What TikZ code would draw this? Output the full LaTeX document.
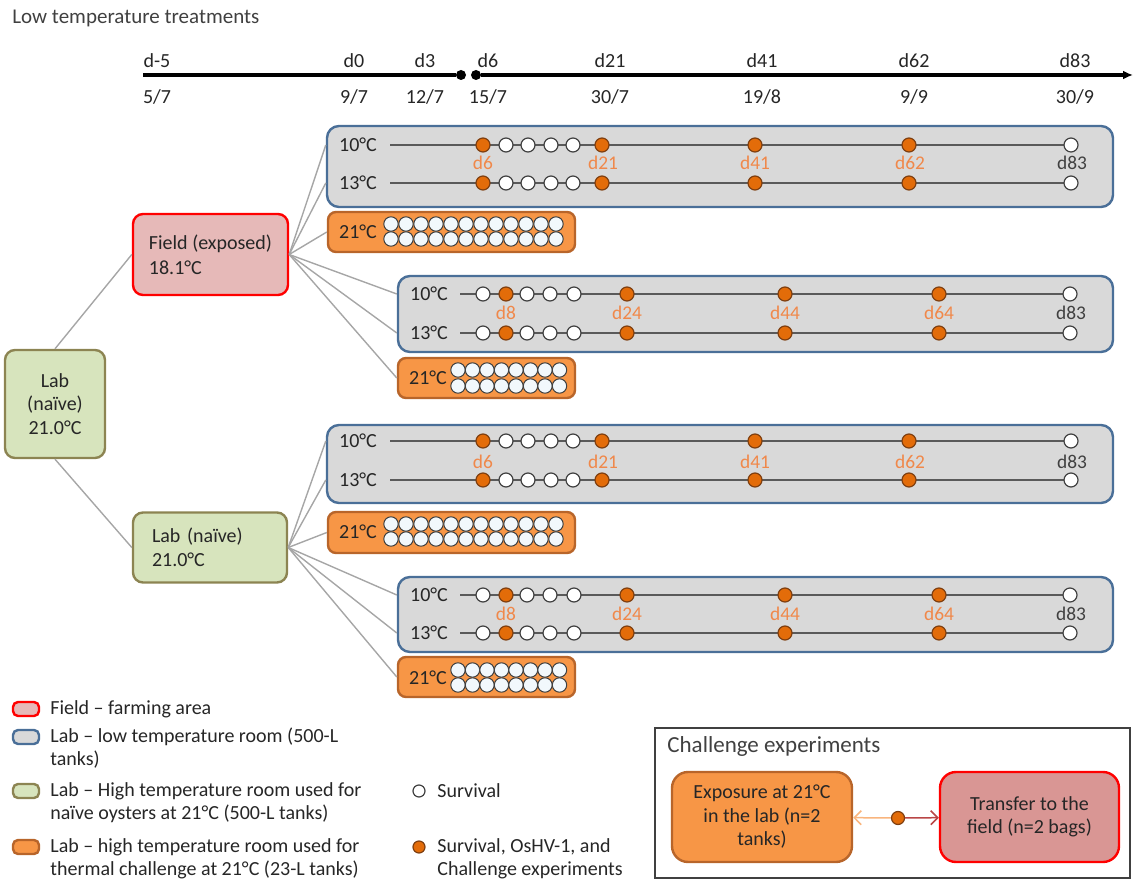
\documentclass[tikz,border=0pt]{standalone}
\usepackage{fontspec}
\setmainfont{Carlito}
\usepackage{tikz}
\usetikzlibrary{positioning, arrows.meta, fit}

\definecolor{boxgrey}{HTML}{D9D9D9}
\definecolor{boxblue}{HTML}{4A6F98}
\definecolor{hotfill}{HTML}{F79646}
\definecolor{hotdraw}{HTML}{B8652A}
\definecolor{fieldfill}{HTML}{E6B9B8}
\definecolor{xferfill}{HTML}{D99694}
\definecolor{fielddraw}{HTML}{FF0000}
\definecolor{labfill}{HTML}{D7E4BD}
\definecolor{labdraw}{HTML}{8C8452}
\definecolor{dotfill}{HTML}{E36C09}
\definecolor{dotdraw}{HTML}{7F3F10}
\definecolor{daytext}{HTML}{F0884A}
\definecolor{inktext}{HTML}{404040}
\definecolor{fanline}{HTML}{A6A6A6}
\definecolor{rowgrey}{HTML}{5A5A5A}
\definecolor{cellfill}{HTML}{F2F8FC}

\begin{document}
\begin{tikzpicture}[
  x=0.5pt, y=-0.5pt,
  every node/.style={font=\fontsize{10}{11.5}\selectfont, text=black!85},
  tank/.style={rectangle, rounded corners=6pt, draw=boxblue, fill=boxgrey, line width=1.2pt, inner sep=0pt},
  hot/.style={rectangle, rounded corners=4pt, draw=hotdraw, fill=hotfill, line width=1.2pt, inner sep=0pt},
  wdot/.style={circle, draw=inktext, fill=white, line width=0.6pt, minimum size=7pt, inner sep=0pt},
  odot/.style={circle, draw=dotdraw, fill=dotfill, line width=0.6pt, minimum size=7pt, inner sep=0pt},
  cdot/.style={circle, draw=inktext, fill=cellfill, line width=0.5pt, minimum size=7.2pt, inner sep=0pt},
  tdot/.style={circle, fill=black, minimum size=5pt, inner sep=0pt},
  rowlbl/.style={inner sep=0pt},
  daylbl/.style={inner sep=0pt, text=daytext, font=\fontsize{9.7}{11}\selectfont},
  rowline/.style={draw=rowgrey, line width=0.75pt},
  fan/.style={draw=fanline, line width=0.7pt},
  timeline/.style={draw=black, line width=1.6pt},
  site/.style={rectangle, rounded corners=5pt, line width=1.2pt},
  swatch/.style={rectangle, rounded corners=2.5pt, line width=1.2pt, minimum width=13pt, minimum height=7pt, inner sep=0pt},
  legtxt/.style={anchor=west, align=left, inner sep=0pt},
  arr/.style={line width=0.75pt, -{Straight Barb[length=3.5pt, width=7pt]}}
]
\useasboundingbox (0,0) rectangle (1134,881);

\node[anchor=west, inner sep=0pt, text=inktext, font=\fontsize{10.5}{12}\selectfont] (title) at (12,18) {Low temperature treatments};

% time line
\coordinate (tl0) at (143,75);
\coordinate (tlend) at (1133,75);
\node[tdot] (tl1) at (461,75) {};
\node[tdot] (tl2) at (476,75) {};
\draw[timeline] (tl0) -- (tl1);
\draw[timeline, -{Latex[length=5pt, width=4.5pt]}] (tl2) -- (tlend);
\foreach \xx/\dd/\mm/\nn in {157/d-5/5/7, 354/d0/9/7, 425/d3/12/7, 488/d6/15/7,
  610/d21/30/7, 762/d41/19/8, 914/d62/9/9, 1075/d83/30/9} {
  \node[rowlbl] (top-\dd) at (\xx,61) {\dd};
  \node[rowlbl] (bot-\dd) at (\xx,97) {\mm/\nn};
}

% origin sites
\node[site, draw=labdraw, fill=labfill, align=center, minimum width=50pt, minimum height=54pt,
  font=\fontsize{10}{11.8}\selectfont] (root) at (55,404) {Lab\\(naïve)\\21.0°C};
\node[site, draw=fielddraw, fill=fieldfill, align=left, minimum width=77.5pt,
  minimum height=40.5pt, font=\fontsize{10}{12.5}\selectfont] (field) at (210.5,254.5) {Field (exposed)\\18.1°C};
\node[site, draw=labdraw, fill=labfill, align=left, text width=58pt, inner xsep=9.5pt,
  minimum height=35pt, font=\fontsize{10}{12}\selectfont] (lab2) at (210,547.5) {Lab (naïve)\\21.0°C};

% low temperature tanks
\node[tank, fit={(327,126) (1113,207)}] (g1) {};
\node[tank, fit={(398,276) (1113,352)}] (g2) {};
\node[tank, fit={(327,425) (1113,503)}] (g3) {};
\node[tank, fit={(398,577) (1113,652)}] (g4) {};

% 21 degree tanks
\node[hot, fit={(328,212) (575,252)}] (h1) {};
\node[hot, fit={(398,358) (575,398)}] (h2) {};
\node[hot, fit={(328,512) (575,553)}] (h3) {};
\node[hot, fit={(398,657) (575,697)}] (h4) {};

\draw[fan] (root.north) -- (field.west);
\draw[fan] (root.south) -- (lab2.west);

% sampling rows, tanks entered at d6
\foreach \gp/\ya/\yb/\yd in {g1/145/183/163, g3/441/480/462} {
  \foreach \rw/\yy/\tc in {a/\ya/10, b/\yb/13} {
    \node[rowlbl] (\gp\rw) at (358,\yy) {\tc °C};
    \coordinate (\gp\rw-s) at (390,\yy);
    \coordinate (\gp\rw-e) at (1071,\yy);
    \draw[rowline] (\gp\rw-s) -- (\gp\rw-e);
    \foreach \xx/\kd in {483/odot, 506/wdot, 528/wdot, 551/wdot, 573/wdot, 602/odot, 755/odot, 909/odot, 1071/wdot}
      \node[\kd] (\gp\rw-\xx) at (\xx,\yy) {};
  }
  \foreach \xx/\dd in {483/6, 603/21, 755/41, 910/62}
    \node[daylbl] (\gp-d\dd) at (\xx,\yd) {d\dd};
  \node[daylbl, text=inktext] (\gp-d83) at (1072,\yd) {d83};
}

% sampling rows, tanks entered at d8
\foreach \gp/\ya/\yb/\yd in {g2/294/333/313, g4/595/633/614} {
  \foreach \rw/\yy/\tc in {a/\ya/10, b/\yb/13} {
    \node[rowlbl] (\gp\rw) at (429,\yy) {\tc °C};
    \coordinate (\gp\rw-s) at (460,\yy);
    \coordinate (\gp\rw-e) at (1070,\yy);
    \draw[rowline] (\gp\rw-s) -- (\gp\rw-e);
    \foreach \xx/\kd in {483/wdot, 506/odot, 527/wdot, 550/wdot, 574/wdot, 627/odot, 785/odot, 939/odot, 1070/wdot}
      \node[\kd] (\gp\rw-\xx) at (\xx,\yy) {};
  }
  \foreach \xx/\dd in {506/8, 627/24, 785/44, 939/64}
    \node[daylbl] (\gp-d\dd) at (\xx,\yd) {d\dd};
  \node[daylbl, text=inktext] (\gp-d83) at (1071,\yd) {d83};
}

% thermal challenge tanks
\foreach \hh/\xl/\ya/\yb in {h1/358/224/239, h3/358/524/539} {
  \node[rowlbl] (\hh-t) at (\xl,{(\ya+\yb)/2}) {21°C};
  \foreach \i in {0,...,11} {
    \node[cdot] (\hh-a\i) at ({391+15*\i},\ya) {};
    \node[cdot] (\hh-b\i) at ({391+15*\i},\yb) {};
  }
}
\foreach \hh/\xl/\ya/\yb in {h2/428/370/386, h4/428/670/685} {
  \node[rowlbl] (\hh-t) at (\xl,{(\ya+\yb)/2}) {21°C};
  \foreach \i in {0,...,7} {
    \node[cdot] (\hh-a\i) at ({458+14.5*\i},\ya) {};
    \node[cdot] (\hh-b\i) at ({458+14.5*\i},\yb) {};
  }
}

% links to tanks
\foreach \bx/\rw in {g1/g1a, g1/g1b, g2/g2a, g2/g2b}
  \draw[fan] (field.east) -- (\bx.west |- \rw-s);
\draw[fan] (field.east) -- (h1.west);
\draw[fan] (field.east) -- (h2.west);
\foreach \bx/\rw in {g3/g3a, g3/g3b, g4/g4a, g4/g4b}
  \draw[fan] (lab2.east) -- (\bx.west |- \rw-s);
\draw[fan] (lab2.east) -- (h3.west);
\draw[fan] (lab2.east) -- (h4.west);

% legend
\node[swatch, draw=fielddraw, fill=fieldfill] (k1) at (26,709) {};
\node[swatch, draw=boxblue, fill=boxgrey] (k2) at (26,737) {};
\node[swatch, draw=labdraw, fill=labfill] (k3) at (26,791) {};
\node[swatch, draw=hotdraw, fill=hotfill] (k4) at (26,847) {};
\node[legtxt] (k1t) at (50,709) {Field – farming area};
\node[legtxt] (k2t) at (50,748.5) {Lab – low temperature room (500-L\\tanks)};
\node[legtxt] (k3t) at (50,802.5) {Lab – High temperature room used for\\naïve oysters at 21°C (500-L tanks)};
\node[legtxt] (k4t) at (50,858.5) {Lab – high temperature room used for\\thermal challenge at 21°C (23-L tanks)};
\node[wdot, minimum size=6pt] (s1) at (419,791) {};
\node[odot, minimum size=6pt] (s2) at (419,847) {};
\node[legtxt] (s1t) at (437,791) {Survival};
\node[legtxt] (s2t) at (437,858.5) {Survival, OsHV-1, and\\Challenge experiments};

% challenge experiments
\node[draw=inktext, line width=0.8pt, inner sep=0pt, fit={(655,728) (1130,878)}] (chal) {};
\node[anchor=west, inner sep=0pt, text=inktext, font=\fontsize{11.5}{13}\selectfont] (chalt) at (667,746) {Challenge experiments};
\node[site, rounded corners=8pt, draw=hotdraw, fill=hotfill, align=center, minimum width=90pt, minimum height=45pt,
  font=\fontsize{10}{11.75}\selectfont] (expo) at (762,817) {Exposure at 21°C\\in the lab (n=2\\tanks)};
\node[site, rounded corners=8pt, draw=fielddraw, fill=xferfill, align=center, minimum width=89.5pt, minimum height=45pt,
  font=\fontsize{10}{11.75}\selectfont] (xfer) at (1029.5,817) {Transfer to the\\field (n=2 bags)};
\node[odot, minimum size=6.5pt] (cdot) at (898,818) {};
\draw[arr, draw=hotfill!70!white] (cdot) -- (expo);
\draw[arr, draw=red!45!gray] (cdot) -- (xfer);
\end{tikzpicture}
\end{document}
